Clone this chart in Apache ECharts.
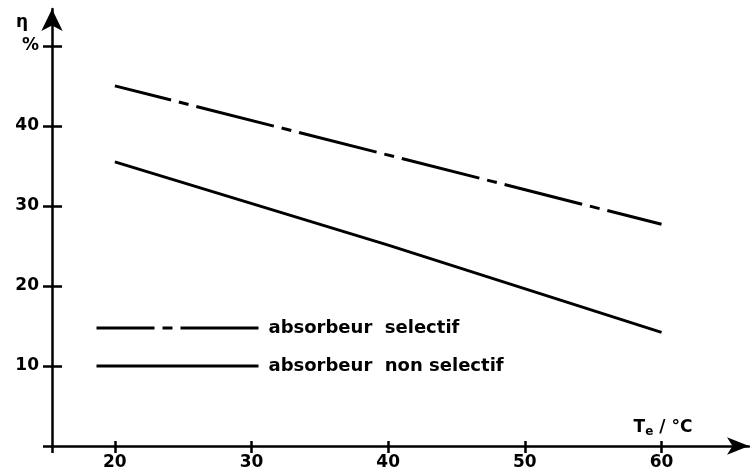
<!DOCTYPE html>
<html>
<head>
<meta charset="utf-8">
<script src="https://cdn.jsdelivr.net/npm/echarts@6/dist/echarts.min.js"></script>
<style>
  html, body { margin: 0; padding: 0; background: #fff; }
  #chart { width: 750px; height: 474px; }
</style>
</head>
<body>
<div id="chart"></div>
<script>
// rendement du capteur vs temperature
var xTicks = [20, 30, 40, 50, 60];
var yTicks = [10, 20, 30, 40, 50];
var selectifT = [20, 60];
var selectifEta = [45, 27.7];
var nonSelectifT = [20, 40, 60];
var nonSelectifEta = [35.5, 25.1, 14.2];
var seriesNames = ["absorbeur  selectif", "absorbeur  non selectif"];

var X_MIN = 15.4, X_MAX = 66.4, Y_MIN = 0, Y_MAX = 54.6;
var font = "DejaVu Sans";

function pairs(xs, ys) {
  var out = [];
  for (var i = 0; i < xs.length; i++) out.push([xs[i], ys[i]]);
  return out;
}

var myChart = echarts.init(document.getElementById("chart"));

var lbl = { color: "#000", fontFamily: font, fontWeight: "bold", fontSize: 17 };

myChart.setOption({
  animation: false,
  grid: { left: 52, right: 1, top: 9, bottom: 28 },
  legend: {
    orient: "vertical",
    left: 95,
    top: 319,
    padding: 0,
    itemWidth: 162,
    itemHeight: 16,
    itemGap: 20,
    itemStyle: { opacity: 0 },
    lineStyle: { width: 3 },
    textStyle: { color: "#000", fontFamily: font, fontWeight: "bold", fontSize: 18, padding: [0, 0, 0, 5] },
    data: seriesNames
  },
  xAxis: [
    {
      type: "value", min: X_MIN, max: X_MAX, position: "bottom",
      splitLine: { show: false },
      axisLine: { show: true, onZero: true, lineStyle: { color: "#000", width: 2.5 },
        symbol: ["none", "arrow"], symbolSize: [13, 22] },
      axisTick: { show: true, inside: false, length: 7, customValues: [X_MIN].concat(xTicks),
        lineStyle: { color: "#000", width: 2.5 } },
      axisLabel: Object.assign({ margin: 8, customValues: xTicks }, lbl),
      name: "{t|T}{e|e}{t| / °C}",
      nameLocation: "end",
      nameGap: -86,
      nameTextStyle: {
        align: "center", verticalAlign: "bottom", padding: [0, 0, 8, 0],
        rich: {
          t: lbl,
          e: { color: "#000", fontFamily: font, fontWeight: "bold", fontSize: 12, padding: [9, 0, 0, 0] }
        }
      }
    },
    {
      type: "value", min: X_MIN, max: X_MAX, position: "bottom",
      splitLine: { show: false },
      axisLine: { show: false },
      axisTick: { show: true, inside: true, length: 5, customValues: xTicks,
        lineStyle: { color: "#000", width: 2.5 } },
      axisLabel: { show: false }
    }
  ],
  yAxis: [
    {
      type: "value", min: Y_MIN, max: Y_MAX, position: "left",
      splitLine: { show: false },
      axisLine: { show: true, onZero: false, lineStyle: { color: "#000", width: 2.5 },
        symbol: ["none", "arrow"], symbolSize: [16, 22] },
      axisTick: { show: true, inside: false, length: 9, customValues: [0].concat(yTicks),
        lineStyle: { color: "#000", width: 2.5 } },
      axisLabel: Object.assign({ margin: 13, customValues: yTicks,
        formatter: function (v) { return v === 50 ? "%" : String(v); } }, lbl),
      name: "η",
      nameLocation: "end",
      nameGap: -5,
      nameTextStyle: Object.assign({ align: "right", verticalAlign: "top", padding: [0, 24, 0, 0] }, lbl)
    },
    {
      type: "value", min: Y_MIN, max: Y_MAX, position: "left",
      splitLine: { show: false },
      axisLine: { show: false },
      axisTick: { show: true, inside: true, length: 10, customValues: yTicks,
        lineStyle: { color: "#000", width: 2.5 } },
      axisLabel: { show: false }
    }
  ],
  series: [
    {
      name: seriesNames[0],
      type: "line",
      symbol: "none",
      xAxisIndex: 0, yAxisIndex: 0,
      lineStyle: { color: "#000", width: 3, type: [80, 8, 10, 8], dashOffset: 22 },
      itemStyle: { color: "#000" },
      data: pairs(selectifT, selectifEta)
    },
    {
      name: seriesNames[1],
      type: "line",
      symbol: "none",
      xAxisIndex: 0, yAxisIndex: 0,
      lineStyle: { color: "#000", width: 3 },
      itemStyle: { color: "#000" },
      data: pairs(nonSelectifT, nonSelectifEta)
    }
  ]
});
</script>
</body>
</html>
